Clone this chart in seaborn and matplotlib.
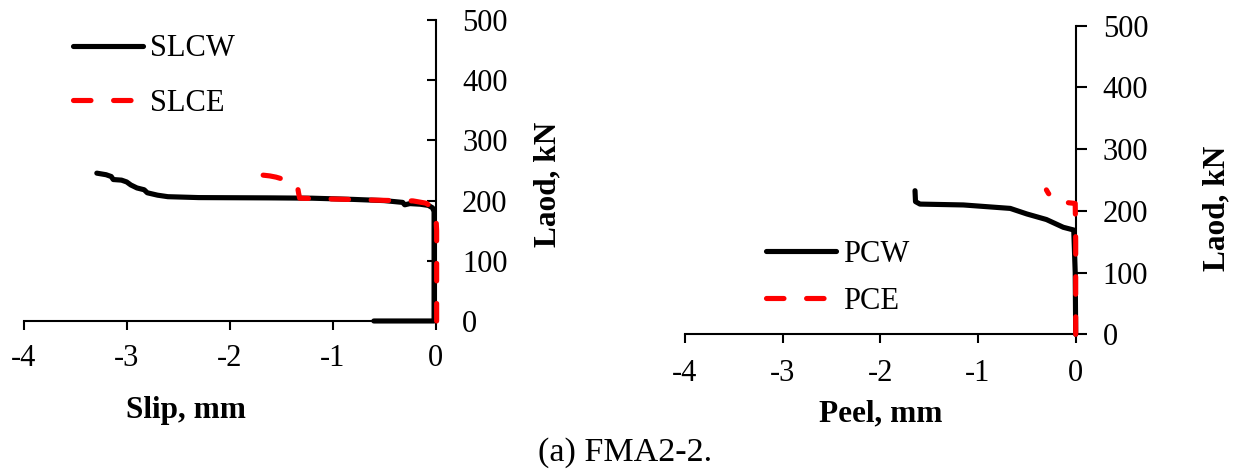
import matplotlib
matplotlib.use("Agg")
import matplotlib.pyplot as plt
import seaborn as sns
import pandas as pd

# ---- data ----
slcw_slip = [-0.60, -0.30, -0.015, -0.015, -0.015, -0.03, -0.07, -0.15, -0.25, -0.30, -0.32,
             -0.50, -0.80, -1.20, -1.60, -2.30, -2.60, -2.70, -2.80, -2.83, -2.90, -2.96,
             -3.00, -3.05, -3.13, -3.15, -3.20, -3.29]
slcw_load = [0, 0, 0, 100, 182, 188, 192, 194, 195, 193, 197,
             200, 202, 204, 204.5, 205, 206.5, 209, 213, 218, 221, 226,
             231, 234, 235, 240, 243, 245.6]

slce_slip = [0.01, 0.01, 0.0, -0.09, -0.22, -0.41, -0.86, -1.32, -1.33, -1.34, -1.37,
             -1.43, -1.55, -1.61, -1.79]
slce_load = [0, 150, 184, 195.6, 199.5, 200, 202, 204, 212, 222, 229,
             233, 239, 241, 244.5]

pcw_peel = [0.0, -0.005, -0.02, -0.127, -0.30, -0.50, -0.67, -1.15, -1.594, -1.64, -1.645]
pcw_load = [0, 100, 169, 173.4, 186, 195, 204, 209.6, 211, 215, 232.7]

pce_peel = [0.0, 0.0, -0.005, -0.18, -0.245, -0.28, -0.30]
pce_load = [0, 150, 212, 215, 222, 228.5, 234]

x_ticks = [-4, -3, -2, -1, 0]
y_ticks = [0, 100, 200, 300, 400, 500]

sns.set_style("white")
plt.rcParams["font.family"] = ["Liberation Serif", "DejaVu Serif"]
plt.rcParams["axes.unicode_minus"] = False
plt.rcParams["text.color"] = "black"
plt.rcParams["axes.labelcolor"] = "black"
plt.rcParams["xtick.color"] = "black"
plt.rcParams["ytick.color"] = "black"
plt.rcParams["legend.labelcolor"] = "black"

fig = plt.figure(figsize=(12.4, 4.71), dpi=100)
ax1 = fig.add_axes([0.0191, 0.3185, 0.3322, 0.639])
ax2 = fig.add_axes([0.5524, 0.2902, 0.3151, 0.6552])

LW = 3.7
DASH = (3.4, 4.4)


def draw(ax, x, y, color, label, dashed):
    df = pd.DataFrame({"x": x, "y": y})
    sns.lineplot(data=df, x="x", y="y", sort=False, estimator=None, color=color,
                 lw=LW, label=label, ax=ax)
    ln = ax.lines[-1]
    ln.set_clip_on(False)
    ln.set_zorder(3 if dashed else 2.8)
    ln.set_solid_capstyle("round")
    ln.set_solid_joinstyle("round")
    if dashed:
        ln.set_dashes(DASH)
        ln.set_dash_capstyle("round")
    return ln


draw(ax1, slcw_slip, slcw_load, "black", "SLCW", False)
draw(ax1, slce_slip, slce_load, "#ff0000", "SLCE", True)
draw(ax2, pcw_peel, pcw_load, "black", "PCW", False)
draw(ax2, pce_peel, pce_load, "#ff0000", "PCE", True)

for ax in (ax1, ax2):
    ax.set_xlim(-4, 0)
    ax.set_ylim(0, 500)
    ax.set_xticks(x_ticks)
    ax.set_yticks(y_ticks)
    ax.set_xticklabels([str(t) for t in x_ticks])
    ax.set_yticklabels([str(t) for t in y_ticks])
    ax.spines["left"].set_visible(False)
    ax.spines["top"].set_visible(False)
    ax.spines["right"].set_visible(True)
    ax.spines["bottom"].set_visible(True)
    for s in ("right", "bottom"):
        ax.spines[s].set_color("black")
        ax.spines[s].set_linewidth(1.5)
    ax.yaxis.tick_right()
    ax.yaxis.set_label_position("right")
    ax.set_facecolor("none")
    ax.grid(False)

ax1.tick_params(axis="y", direction="in", length=6.3, width=1.5, pad=19, labelsize=22,
                colors="black", left=False, right=True)
ax1.tick_params(axis="x", direction="out", length=6.5, width=1.5, pad=10, labelsize=22,
                colors="black", bottom=True)
ax2.tick_params(axis="y", direction="out", length=7.7, width=1.5, pad=11.7, labelsize=22,
                colors="black", left=False, right=True)
ax2.tick_params(axis="x", direction="out", length=6.5, width=1.5, pad=11, labelsize=22,
                colors="black", bottom=True)

ax1.set_xlabel("Slip, mm", fontsize=22.5, fontweight="bold", color="black")
ax1.xaxis.set_label_coords(0.395, -0.250)
ax2.set_xlabel("Peel, mm", fontsize=22.5, fontweight="bold", color="black")
ax2.xaxis.set_label_coords(0.5, -0.211)

for ax, xc, yc in ((ax1, 1.2716, 0.455), (ax2, 1.3620, 0.409)):
    ax.set_ylabel("Laod, kN", fontsize=22.5, fontweight="bold", color="black")
    ax.yaxis.set_label_coords(xc, yc)
    ax.yaxis.label.set_ha("center")
    ax.yaxis.label.set_va("center")
    ax.yaxis.label.set_rotation(90)

ax1.legend(loc="center left", bbox_to_anchor=(0.12, 0.814), frameon=False, fontsize=22,
           handlelength=2.3, handletextpad=0.23, labelspacing=0.82, borderpad=0,
           borderaxespad=0, labelcolor="black")
ax2.legend(loc="center left", bbox_to_anchor=(0.207, 0.182), frameon=False, fontsize=22,
           handlelength=2.3, handletextpad=0.23, labelspacing=0.59, borderpad=0,
           borderaxespad=0, labelcolor="black")

fig.text(0.504, 0.04, "(a) FMA2-2.", ha="center", va="center", fontsize=24.5, color="black")

fig.savefig("out.png", dpi=100, facecolor="white")
